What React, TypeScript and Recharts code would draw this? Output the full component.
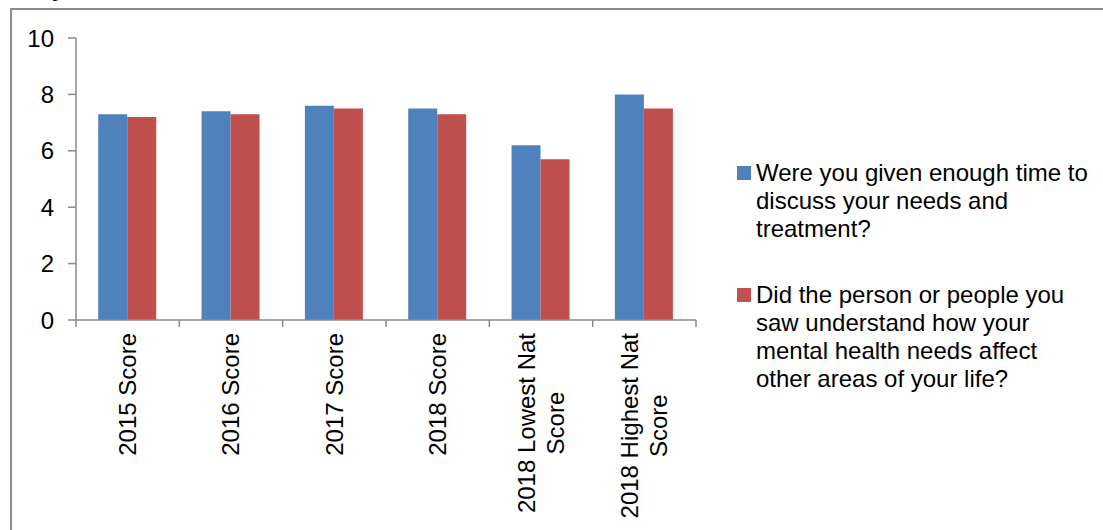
import React from 'react';
import { BarChart, Bar, XAxis, YAxis, Legend } from 'recharts';

const categories = [
  '2015 Score',
  '2016 Score',
  '2017 Score',
  '2018 Score',
  '2018 Lowest Nat Score',
  '2018 Highest Nat Score',
];
const timeScores = [7.3, 7.4, 7.6, 7.5, 6.2, 8.0];
const impactScores = [7.2, 7.3, 7.5, 7.3, 5.7, 7.5];
const seriesNames = [
  'Were you given enough time to discuss your needs and treatment?',
  'Did the person or people you saw understand how your mental health needs affect other areas of your life?',
];
const yTicks = [0, 2, 4, 6, 8, 10];

const FONT = '"Liberation Sans", Arial, sans-serif';
const AXIS = '#8a8a8a';
const WIDTH = 1103;
const HEIGHT = 530;
const margin = { top: 38, right: 407, bottom: 10, left: 16 };
const Y_AXIS_W = 60;
const PLOT_W = WIDTH - margin.left - margin.right - Y_AXIS_W;
const BAND = PLOT_W / categories.length;

const data = categories.map((name, i) => ({
  name,
  time: timeScores[i],
  impact: impactScores[i],
}));

const ctx = typeof document !== 'undefined' ? document.createElement('canvas').getContext('2d') : null;
function measure(s: string) {
  if (!ctx) return s.length * 12;
  ctx.font = `24px ${FONT}`;
  return ctx.measureText(s).width;
}

// break a category name into lines no wider than maxW
function wrap(label: string, maxW = 200) {
  const words = label.split(' ');
  const lines: string[] = [];
  let cur = '';
  words.forEach(w => {
    const next = cur ? `${cur} ${w}` : w;
    if (cur && measure(next) > maxW) {
      lines.push(cur);
      cur = w;
    } else {
      cur = next;
    }
  });
  if (cur) lines.push(cur);
  return lines;
}

function CategoryTick(props: any) {
  const { x, y, payload, index } = props;
  const lines = wrap(payload.value);
  const blockLen = Math.max(...lines.map(measure));
  const n = lines.length;
  return (
    <g>
      <line x1={x - BAND / 2} x2={x - BAND / 2} y1={y} y2={y + 7} stroke={AXIS} strokeWidth={1.5} />
      {index === categories.length - 1 && (
        <line x1={x + BAND / 2} x2={x + BAND / 2} y1={y} y2={y + 7} stroke={AXIS} strokeWidth={1.5} />
      )}
      <g transform={`translate(${x},${y + 13}) rotate(-90)`}>
        {lines.map((ln, i) => (
          <text
            key={i}
            x={-blockLen / 2}
            y={(i - (n - 1) / 2) * 29}
            dy="0.35em"
            textAnchor="middle"
            fontSize={24}
            fontFamily={FONT}
            fill="#000"
          >
            {ln}
          </text>
        ))}
      </g>
    </g>
  );
}

function LegendBox({ payload }: any) {
  // keep series order rather than the legend's alphabetical sort
  const items = [...(payload || [])].sort(
    (a: any, b: any) => seriesNames.indexOf(a.value) - seriesNames.indexOf(b.value)
  );
  return (
    <div style={{ fontFamily: FONT, fontSize: 24, lineHeight: '28px', color: '#000' }}>
      {items.map((entry: any, i: number) => (
        <div key={i} style={{ display: 'flex', alignItems: 'flex-start', marginTop: i === 0 ? 0 : 38 }}>
          <span
            style={{
              display: 'inline-block',
              width: 14,
              height: 14,
              marginTop: 7,
              marginRight: 5,
              background: entry.color,
              flex: 'none',
            }}
          />
          <span style={{ width: 338 }}>{entry.value}</span>
        </div>
      ))}
    </div>
  );
}

export default function App() {
  return (
    <div
      style={{
        position: 'absolute',
        left: 0,
        top: 0,
        width: WIDTH,
        height: HEIGHT,
        overflow: 'hidden',
        background: '#fff',
        fontFamily: FONT,
      }}
    >
      {/* tail of the heading above the frame */}
      <span
        style={{
          position: 'absolute',
          left: 54,
          top: -24,
          fontSize: 24,
          lineHeight: '24px',
          fontWeight: 'bold',
          fontStyle: 'italic',
        }}
      >
        y
      </span>
      <div
        style={{
          position: 'absolute',
          left: 10,
          top: 8,
          right: -10,
          bottom: -10,
          borderLeft: '2px solid #8c8c8c',
          borderTop: '2px solid #8c8c8c',
        }}
      />
      <div style={{ position: 'absolute', left: 0, top: 0 }}>
        <BarChart width={WIDTH} height={HEIGHT} data={data} margin={margin} barCategoryGap="21.5%" barGap={0}>
          <XAxis
            dataKey="name"
            height={200}
            interval={0}
            axisLine={{ stroke: AXIS, strokeWidth: 1.5 }}
            tickLine={false}
            tickSize={0}
            tickMargin={0}
            tick={<CategoryTick />}
          />
          <YAxis
            width={Y_AXIS_W}
            domain={[0, 10]}
            ticks={yTicks}
            interval={0}
            axisLine={{ stroke: AXIS, strokeWidth: 1.5 }}
            tickLine={{ stroke: AXIS, strokeWidth: 1.5 }}
            tickSize={8}
            tickMargin={14}
            tick={{ fontSize: 24, fill: '#000', fontFamily: FONT }}
          />
          <Legend
            layout="vertical"
            align="center"
            verticalAlign="middle"
            content={<LegendBox />}
            wrapperStyle={{ left: 737, top: 159, width: 360, height: 'auto' }}
          />
          <Bar dataKey="time" name={seriesNames[0]} fill="#4F81BD" isAnimationActive={false} />
          <Bar dataKey="impact" name={seriesNames[1]} fill="#C0504D" isAnimationActive={false} />
        </BarChart>
      </div>
    </div>
  );
}
